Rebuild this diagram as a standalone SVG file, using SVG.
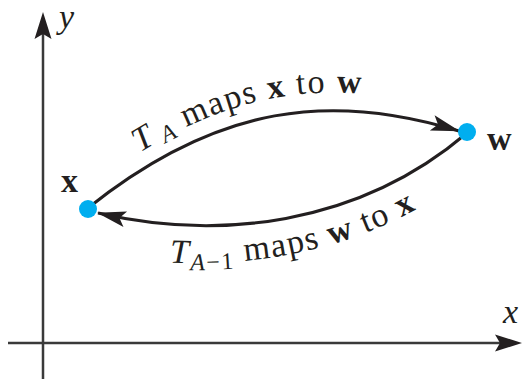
<svg xmlns="http://www.w3.org/2000/svg" xmlns:xlink="http://www.w3.org/1999/xlink" width="527" height="379" viewBox="0 0 527 379">
<style>
.axis{stroke:#3a3a3a;stroke-width:2.5;fill:none}
.ahead{fill:#231f20;stroke:none}
.conn{stroke:#231f20;stroke-width:3;fill:none}
.dot{fill:#00aeef}
.t{font-family:"Liberation Serif","Times New Roman",serif;font-size:34px;fill:#231f20}
.lp{letter-spacing:1.5px}
.i{font-style:italic}
.b{font-weight:bold}
</style>
<defs>
<marker id="arr" markerUnits="userSpaceOnUse" viewBox="-30 -10 32 20" markerWidth="32" markerHeight="20" refX="0" refY="0" orient="auto">
<path d="M1,0 L-28,-8 L-22,0 L-28,8 Z" fill="#231f20"/>
</marker>
<path id="tp1" d="M88,190 C218,86 332,74 462,113"/>
<path id="tp2" d="M120,258 C220,272 340,260 440,195"/>
</defs>
<g id="axes">
<line class="axis" x1="43" y1="30" x2="43" y2="379"/>
<path class="ahead" d="M43,12 L51.5,39 L43,34 L34.5,39 Z"/>
<line class="axis" x1="8" y1="343" x2="505" y2="343"/>
<path class="ahead" d="M522,343 L495,334.5 L500,343 L495,351.5 Z"/>
<text class="t i" x="59" y="28">y</text>
<text class="t i" x="503" y="323">x</text>
</g>
<g id="connectors">
<path class="conn" d="M88,208 C218,104 332,92 459,131" marker-end="url(#arr)"/>
<path class="conn" d="M467,133 C357,226.5 217,240.6 98,213" marker-end="url(#arr)"/>
<text class="t lp"><textPath href="#tp1" xlink:href="#tp1" startOffset="64"><tspan class="i">T</tspan><tspan class="i" font-size="24" dx="6" dy="5">A</tspan><tspan dy="-5"> maps </tspan><tspan class="b">x</tspan> to <tspan class="b">w</tspan></textPath></text>
<text class="t lp"><textPath href="#tp2" xlink:href="#tp2" startOffset="50"><tspan class="i">T</tspan><tspan font-size="24" dy="7"><tspan class="i">A</tspan>−1</tspan><tspan dy="-7"> maps </tspan><tspan class="b">w</tspan> to <tspan class="b">x</tspan></textPath></text>
</g>
<g id="node-x">
<circle class="dot" cx="88" cy="209" r="9"/>
<text class="t b" x="61" y="192">x</text>
</g>
<g id="node-w">
<circle class="dot" cx="467" cy="132" r="9"/>
<text class="t b" x="487" y="150">w</text>
</g>
</svg>
